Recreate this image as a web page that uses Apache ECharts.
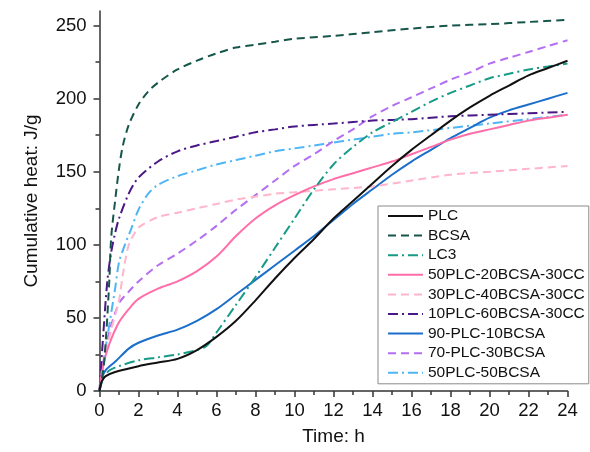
<!DOCTYPE html>
<html>
<head>
<meta charset="utf-8">
<script src="https://cdn.jsdelivr.net/npm/echarts@6/dist/echarts.min.js"></script>
<style>
  html, body { margin: 0; padding: 0; background: #fff; }
  #chart { width: 590px; height: 452px; }
</style>
</head>
<body>
<div id="chart"></div>
<script>
// 数据：[时间 h, 累积放热 J/g]
var seriesNames = [
  'PLC', 'BCSA', 'LC3', '50PLC-20BCSA-30CC', '30PLC-40BCSA-30CC',
  '10PLC-60BCSA-30CC', '90-PLC-10BCSA', '70-PLC-30BCSA', '50PLC-50BCSA'
];

var plc = [[0,0],[0.1,6],[0.3,10],[0.8,13],[2,17],[3,19.5],[4,22],[5,28],[6,37],[7,48],[8,62],[9,77],[10,91],[11,104],[12,118],[13,130],[14,142],[15,154],[16,165],[17,175],[18,185],[19,194],[20,202],[21,209],[22,216],[23,221],[24,226]];
var bcsa = [[0,0],[0.2,15],[0.35,40],[0.5,75],[0.6,105],[0.8,130],[1,152],[1.2,168],[1.5,182],[2,196],[2.5,205],[3,211],[4,220],[5,226],[6,231],[7,235],[8,237],[9,239],[10,241],[12,243],[14,245.5],[16,248],[18,250],[20,251],[22,252.5],[24,254]];
var lc3 = [[0,0],[0.2,9],[0.5,14],[1,17],[2,21],[3,23],[4,25],[5,28],[5.5,31],[6,40],[7,59],[8,78],[9,98],[10,118],[11,138],[12,155],[13,167],[14,177],[15,184],[16,191],[17,198],[18,204],[19,209],[20,214],[21,217],[22,220],[23,222],[24,224]];
var plc50 = [[0,0],[0.2,18],[0.5,32],[1,47],[1.5,56],[2,63],[3,70],[4,75],[5,82],[6,92],[7,106],[8,118],[9,127],[10,134],[11,140],[12,145],[13,149],[14,153],[15,157],[16,162],[17,167],[18,172],[19,176],[20,179],[21,182],[22,185],[23,187],[24,189]];
var plc30 = [[0,0],[0.3,25],[0.6,42],[1,62],[1.2,80],[1.5,100],[1.8,108],[2,112],[3,119],[4,122],[5,125],[6,128],[7,131],[8,133],[9,135],[10,136],[12,138],[14,140],[16,144],[18,148],[20,150],[22,152],[24,154]];
var plc10 = [[0,0],[0.2,40],[0.4,75],[0.6,95],[0.8,108],[1,118],[1.5,135],[2,146],[3,157],[4,164],[5,168],[6,171],[7,174],[8,177],[9,179],[10,181],[12,183],[14,185],[16,186],[18,188],[20,189],[22,190],[24,191]];
var plc90 = [[0,0],[0.1,8],[0.3,14],[0.8,20],[1.5,29],[2,33],[3,38],[4,42],[5,48],[6,56],[7,66],[8,76],[9,86],[10,96],[11,106],[12,117],[13,128],[14,138],[15,148],[16,157],[17,165],[18,173],[19,180],[20,187],[21,192],[22,196],[23,200],[24,204]];
var plc70 = [[0,0],[0.2,20],[0.5,40],[1,60],[1.5,68],[2,75],[3,86],[4,94],[5,103],[6,113],[7,124],[8,134],[9,144],[10,154],[11,162],[12,171],[13,179],[14,188],[15,195],[16,201],[17,207],[18,213],[19,218],[20,224],[21,228],[22,232],[23,236],[24,240]];
var plcBcsa50 = [[0,0],[0.2,20],[0.5,45],[0.8,70],[1,88],[1.3,100],[1.6,110],[2,124],[2.5,135],[3,141],[4,147],[5,151],[6,155],[7,158],[8,161],[9,164],[10,166],[11,168],[12,170],[13,172],[14,174],[15,176],[16,177],[18,180],[20,183],[22,186],[24,189]];

var yMajorTicks = [0, 50, 100, 150, 200, 250];
var yMinorTicks = [25, 75, 125, 175, 225];

var allData = [plc, bcsa, lc3, plc50, plc30, plc10, plc90, plc70, plcBcsa50];
var colors = ['#111111', '#17574b', '#179a88', '#ff6ea8', '#ffb5cb', '#4a1787', '#1b6fcb', '#b46ef2', '#4fb6f5'];
var dash = [8, 5];
var dashDot = [10, 4, 2, 4];
var lineTypes = ['solid', dash, dashDot, 'solid', dash, dashDot, 'solid', dash, dashDot];

var font = '"Liberation Sans", Arial, sans-serif';
var axisColor = '#333';

var chart = echarts.init(document.getElementById('chart'), null, { renderer: 'canvas' });

var series = seriesNames.map(function (name, i) {
  return {
    name: name,
    type: 'line',
    data: allData[i],
    symbol: 'none',
    smooth: 0.3,
    lineStyle: { color: colors[i], width: 2, type: lineTypes[i] },
    itemStyle: { color: colors[i] },
    z: 10 - i
  };
});

chart.setOption({
  animation: false,
  backgroundColor: '#fff',
  textStyle: { fontFamily: font },
  grid: { left: 99.5, right: 22.5, top: 11, bottom: 61, containLabel: false },
  legend: {
    orient: 'vertical',
    left: 378,
    top: 206,
    padding: [1, 4, 2, 9],
    itemWidth: 35,
    itemHeight: 10,
    itemGap: 1.6,
    itemTextGap: 5,
    itemStyle: { opacity: 0 },
    borderColor: '#8a8a8a',
    borderWidth: 1,
    backgroundColor: '#fff',
    textStyle: { color: '#111', fontSize: 15.5, lineHeight: 18, fontFamily: font },
    data: seriesNames
  },
  xAxis: {
    type: 'value',
    min: 0,
    max: 24,
    interval: 2,
    name: 'Time: h',
    nameLocation: 'middle',
    nameGap: 36,
    nameTextStyle: { color: '#111', fontSize: 19, fontFamily: font },
    axisLine: { onZero: false, lineStyle: { color: axisColor, width: 1.5 } },
    axisTick: { show: true, inside: false, length: 6, lineStyle: { color: axisColor, width: 1.5 } },
    minorTick: { show: true, splitNumber: 2, length: 4, lineStyle: { color: axisColor, width: 1.5 } },
    axisLabel: { color: '#111', fontSize: 18.5, margin: 10, fontFamily: font },
    splitLine: { show: false }
  },
  yAxis: [{
    type: 'value',
    min: 0,
    max: 260,
    interval: 50,
    name: 'Cumulative heat: J/g',
    nameLocation: 'middle',
    nameGap: 58,
    nameTextStyle: { color: '#111', fontSize: 19, fontFamily: font },
    axisLine: { onZero: false, lineStyle: { color: axisColor, width: 1.5 } },
    axisTick: { show: true, inside: false, length: 6, customValues: yMajorTicks, lineStyle: { color: axisColor, width: 1.5 } },
    axisLabel: { color: '#111', fontSize: 18.5, margin: 13, customValues: yMajorTicks, fontFamily: font },
    splitLine: { show: false }
  }, {
    type: 'value',
    position: 'left',
    min: 0,
    max: 260,
    interval: 25,
    axisLine: { show: false },
    axisTick: { show: true, inside: false, length: 4, customValues: yMinorTicks, lineStyle: { color: axisColor, width: 1.5 } },
    axisLabel: { show: false },
    splitLine: { show: false }
  }],
  series: series
});
</script>
</body>
</html>
